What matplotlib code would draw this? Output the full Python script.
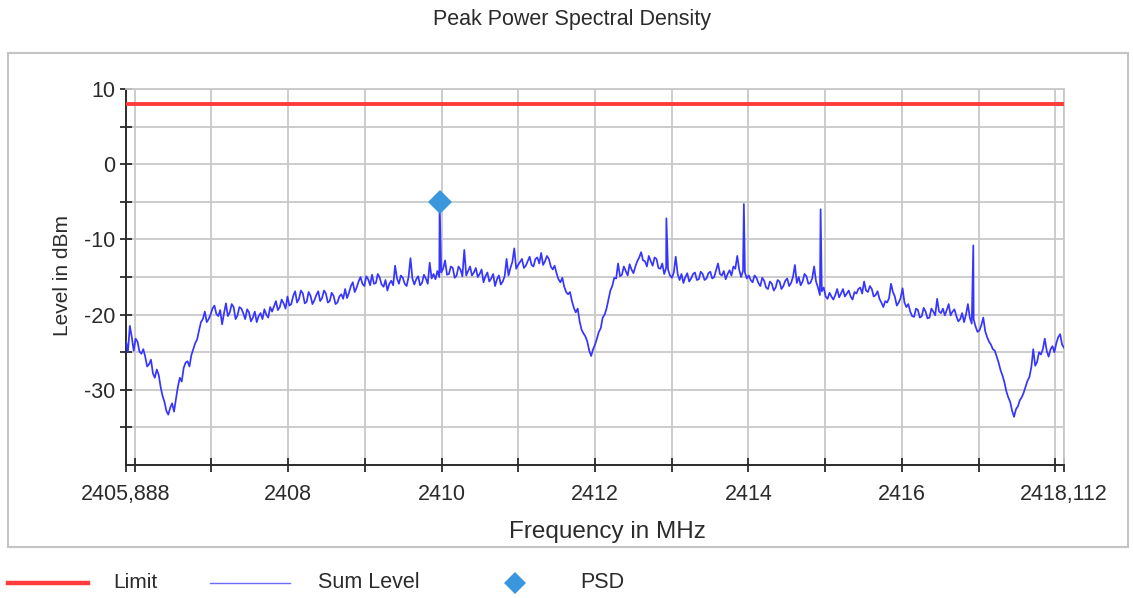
import numpy as np
import matplotlib
matplotlib.use("Agg")
import matplotlib.pyplot as plt
from matplotlib.lines import Line2D
from matplotlib.patches import Rectangle
from matplotlib.ticker import FixedLocator, FixedFormatter

plt.rcParams['font.family'] = ['Liberation Sans', 'DejaVu Sans']
plt.rcParams['axes.unicode_minus'] = False

# Sweep span (MHz)
f_start = 2405.888
f_stop = 2418.112

# Sum level trace (dBm) at the even sweep points
sum_level = [
    -23.5, -21.5, -24.8, -23.6, -25.2, -25.6, -26.6, -27.8, -27.3, -29.6,
    -31.6, -33.3, -31.8, -31.2, -28.4, -27.1, -26.2, -25.4, -23.8, -22.1,
    -20.6, -21.0, -20.0, -18.8, -20.2, -21.3, -18.5, -19.7, -19.0, -20.1,
    -19.2, -20.6, -19.7, -20.4, -21.0, -19.8, -19.3, -20.4, -19.6, -18.2,
    -19.0, -18.5, -17.6, -18.6, -16.9, -17.9, -17.2, -18.3, -17.5, -18.1,
    -16.9, -17.8, -17.2, -18.2, -17.5, -18.4, -17.3, -16.6, -17.1, -15.7,
    -16.4, -15.0, -16.2, -15.3, -14.7, -15.8, -15.1, -16.3, -16.8, -15.5,
    -13.5, -15.9, -15.1, -16.2, -12.5, -16.0, -14.9, -15.8, -15.2, -13.1,
    -14.6, -14.2, -14.4, -12.8, -14.6, -13.8, -14.8, -14.0, -11.4, -14.2,
    -14.8, -13.8, -14.6, -15.7, -14.4, -15.2, -16.2, -14.8, -15.6, -12.6,
    -13.8, -11.2, -13.4, -12.6, -13.5, -12.3, -13.6, -12.4, -11.8, -12.9,
    -12.6, -14.0, -14.5, -15.7, -16.3, -17.3, -18.2, -19.7, -20.9, -22.5,
    -23.6, -25.5, -24.0, -22.3, -20.4, -19.2, -16.8, -15.1, -13.2, -14.7,
    -14.2, -13.3, -14.5, -12.9, -11.7, -12.9, -12.2, -13.5, -12.6, -13.9,
    -14.6, -14.0, -15.1, -12.3, -15.4, -15.8, -14.5, -15.2, -14.4, -15.3,
    -14.6, -15.2, -14.3, -15.0, -13.2, -14.8, -15.3, -14.1, -13.6, -12.2,
    -15.0, -14.4, -14.8, -15.7, -15.1, -16.2, -15.5, -16.6, -15.9, -16.4,
    -15.6, -16.2, -15.2, -15.8, -13.4, -15.0, -15.6, -14.9, -15.8, -13.6,
    -16.4, -16.9, -17.6, -17.1, -18.0, -16.6, -17.2, -17.6, -16.8, -18.0,
    -17.2, -16.4, -15.6, -17.0, -16.6, -17.4, -17.9, -19.0, -18.4, -15.9,
    -17.6, -18.4, -16.5, -19.0, -19.6, -20.3, -19.4, -20.2, -19.6, -20.4,
    -19.6, -17.9, -19.8, -20.1, -18.6, -19.6, -20.2, -20.6, -21.0, -18.6,
    -21.2, -21.6, -22.1, -20.4, -23.0, -24.0, -24.8, -26.4, -28.1, -30.2,
    -31.6, -33.6, -32.2, -31.0, -29.6, -28.3, -24.6, -26.3, -25.3, -23.2,
    -25.6, -24.2, -23.8, -22.6, -24.4,
]

# Sum level trace (dBm) halfway between neighbouring sweep points
sum_level_mid = [
    -25.0, -23.0, -23.2, -24.9, -24.6, -26.9, -26.0, -28.4, -28.0, -30.8,
    -32.8, -32.4, -32.9, -29.6, -28.9, -26.4, -26.9, -24.6, -23.3, -21.0,
    -19.6, -20.6, -19.2, -19.9, -19.4, -19.8, -20.2, -18.6, -20.6, -19.0,
    -19.8, -19.3, -20.9, -19.6, -20.2, -20.6, -20.0, -19.0, -18.9, -19.4,
    -18.0, -19.2, -18.8, -17.5, -18.4, -16.8, -18.5, -17.0, -18.6, -17.4,
    -18.2, -16.8, -18.4, -17.1, -18.6, -17.6, -17.9, -17.8, -16.2, -17.0,
    -15.6, -15.9, -14.9, -16.1, -15.9, -14.6, -16.0, -15.4, -15.9, -16.1,
    -15.2, -14.8, -15.9, -15.0, -15.2, -15.3, -16.1, -14.7, -15.9, -15.2,
    -15.3, -15.0, -13.9, -14.7, -13.6, -15.1, -13.6, -14.9, -14.8, -13.6,
    -14.4, -15.0, -14.0, -14.9, -15.6, -14.6, -15.3, -16.0, -14.9, -14.8,
    -13.0, -13.9, -13.0, -13.8, -12.9, -13.4, -12.6, -13.2, -13.4, -12.2,
    -13.6, -13.5, -15.3, -15.1, -17.0, -17.0, -19.1, -19.2, -22.0, -22.9,
    -24.8, -24.6, -23.2, -21.8, -20.0, -18.0, -16.2, -15.2, -14.9, -13.6,
    -14.8, -14.0, -13.6, -12.4, -12.8, -13.6, -12.9, -12.4, -13.8, -13.2,
    -13.8, -14.8, -14.4, -14.6, -14.6, -15.0, -15.6, -14.6, -15.4, -14.3,
    -15.4, -14.5, -15.2, -14.1, -14.6, -14.2, -14.6, -14.8, -13.9, -14.0,
    -14.2, -15.2, -15.4, -14.8, -15.8, -15.1, -16.4, -15.6, -16.8, -15.4,
    -16.6, -15.5, -16.2, -15.0, -15.8, -16.1, -14.6, -15.9, -15.2, -15.6,
    -17.4, -16.4, -17.9, -17.6, -17.4, -17.7, -16.6, -17.2, -17.6, -17.0,
    -16.6, -17.2, -16.8, -16.2, -17.6, -16.9, -18.4, -18.2, -17.8, -17.0,
    -18.8, -17.8, -18.4, -18.6, -20.2, -19.2, -20.4, -19.1, -20.5, -19.2,
    -20.1, -19.6, -19.2, -19.4, -20.1, -19.3, -20.9, -19.8, -20.0, -20.4,
    -20.6, -22.3, -21.4, -22.2, -23.6, -24.6, -25.6, -27.4, -29.0, -31.0,
    -32.8, -32.6, -31.4, -30.4, -28.8, -27.0, -26.8, -25.0, -24.6, -24.8,
    -24.6, -25.0, -23.0, -24.0,
]

# Narrow spurs riding on the trace
spur_freq = [2409.975, 2412.93, 2413.94, 2414.94, 2416.93]
spur_level = [-5.0, -7.2, -5.3, -6.0, -10.8]

# Limit and PSD result
limit_level = 8.0
psd_freq = 2409.975
psd_level = -5.0

# Axis ticks
x_major = [2405.888, 2408, 2410, 2412, 2414, 2416, 2418.112]
x_major_labels = ["2405,888", "2408", "2410", "2412", "2414", "2416", "2418,112"]
x_minor = [2406, 2407, 2409, 2411, 2413, 2415, 2417, 2418]
y_major = [10, 0, -10, -20, -30]
y_minor = [5, -5, -15, -25, -35]

W, H = 1133, 598
fig = plt.figure(figsize=(W / 100, H / 100), dpi=100)
fig.patch.set_facecolor('white')

# Axes box in pixel coordinates
ax_l, ax_r, ax_t, ax_b = 126, 1064, 89, 465
ax = fig.add_axes([ax_l / W, 1 - ax_b / H, (ax_r - ax_l) / W, (ax_b - ax_t) / H])

# Interleave sweep points with the halfway points, then add the spurs
n_pts = len(sum_level) + len(sum_level_mid)
trace = np.empty(n_pts)
trace[0::2] = sum_level
trace[1::2] = sum_level_mid
freq = np.linspace(f_start, f_stop, n_pts)
f_all = np.concatenate([freq, spur_freq])
l_all = np.concatenate([trace, spur_level])
order = np.argsort(f_all, kind='stable')

grid_c = '#c8c8c8'
dark = '#2b2b2b'

ax.axhline(limit_level, color='#ff3b3b', lw=2.8, zorder=3)
ax.plot(f_all[order], l_all[order], color='#3535ff', lw=1.25, zorder=4)
ax.plot([psd_freq], [psd_level], marker='D', ms=12, color='#3a96dd',
        markeredgewidth=0, linestyle='none', zorder=5)

ax.set_xlim(f_start, f_stop)
ax.set_ylim(-40, 10)

ax.xaxis.set_major_locator(FixedLocator(x_major))
ax.xaxis.set_major_formatter(FixedFormatter(x_major_labels))
ax.xaxis.set_minor_locator(FixedLocator(x_minor))
ax.yaxis.set_major_locator(FixedLocator(y_major))
ax.yaxis.set_minor_locator(FixedLocator(y_minor))

ax.grid(True, which='both', color=grid_c, lw=1.3, zorder=1)
ax.set_axisbelow(True)

for side in ('top', 'right'):
    ax.spines[side].set_color(grid_c)
    ax.spines[side].set_linewidth(1.3)
for side in ('left', 'bottom'):
    ax.spines[side].set_color(dark)
    ax.spines[side].set_linewidth(1.4)

ax.tick_params(axis='both', which='both', direction='inout', color=dark,
               width=1.3, labelsize=15.5, labelcolor=dark)
ax.tick_params(axis='x', which='both', length=10, pad=9)
ax.tick_params(axis='y', which='both', length=9, pad=3)

# Axis titles and chart title
fig.text(572 / W, 1 - 19 / H, "Peak Power Spectral Density", ha='center',
         va='center', fontsize=15.5, color=dark)
fig.text(607 / W, 1 - 532 / H, "Frequency in MHz", ha='center', va='center',
         fontsize=17.5, color=dark)
fig.text(62 / W, 1 - 276 / H, "Level in dBm", ha='center', va='center',
         rotation=90, fontsize=15, color=dark)

# Panel frame
fig.add_artist(Rectangle((8 / W, 1 - 547 / H), (1128 - 8) / W, (547 - 53) / H,
                         transform=fig.transFigure, fill=False,
                         edgecolor='#c4c4c4', lw=1.5))

# Legend row
ly = 1 - 583 / H
fig.add_artist(Line2D([8 / W, 88 / W], [ly, ly], transform=fig.transFigure,
                      color='#ff3b3b', lw=3.2))
fig.text(113 / W, ly, "Limit", ha='left', va='center', fontsize=15, color=dark)
fig.add_artist(Line2D([210 / W, 290 / W], [ly, ly], transform=fig.transFigure,
                      color='#6a6aff', lw=1.0))
fig.text(318 / W, ly, "Sum Level", ha='left', va='center', fontsize=15.5, color=dark)
fig.add_artist(Line2D([515 / W], [ly], transform=fig.transFigure, marker='D',
                      ms=11, color='#3a96dd', markeredgewidth=0, linestyle='none'))
fig.text(580 / W, ly, "PSD", ha='left', va='center', fontsize=15.5, color=dark)

fig.savefig("out.png", dpi=100)
